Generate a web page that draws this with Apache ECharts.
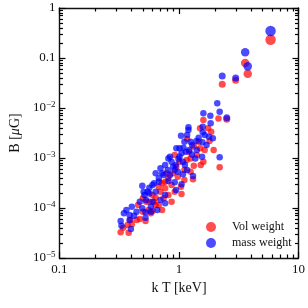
<!DOCTYPE html>
<html><head><meta charset="utf-8">
<script src="https://cdn.jsdelivr.net/npm/echarts@6/dist/echarts.min.js"></script>
<style>html,body{margin:0;padding:0;background:#fff}#c{width:308px;height:308px}</style>
</head><body><div id="c"></div>
<script>
// Data: [kT (keV), B (muG)]
const volWeight = [
 [5.84,0.232],[3.58,0.079],[3.76,0.0486],[2.98,0.036],[2.30,0.030],
 [2.14,0.0062],[2.51,0.00593],[1.60,0.00575],[1.86,0.00336],[1.80,0.00219],[1.95,0.00145],
 [1.17,0.0024],[1.33,0.00169],[1.50,0.00156],[1.25,0.00098],[1.16,0.000912],[1.60,0.000845],
 [1.52,0.000724],[1.33,0.000703],[2.19,0.00065],[1.01,0.000845],[0.887,0.000493],[0.815,0.000392],
 [0.977,0.000424],[0.766,0.000336],[0.722,0.000311],[0.867,0.000288],[1.04,0.000267],[0.678,0.000267],
 [0.600,0.000182],[0.815,0.000182],[1.05,0.000191],[0.531,0.000134],[0.638,0.000115],[0.557,0.0000912],
 [0.600,0.0000871],[0.722,0.0000912],[0.867,0.000134],[0.638,0.000161],[0.499,0.000156],[0.455,0.000115],
 [0.442,0.0000575],[0.391,0.0000575],[0.372,0.0000457],[0.341,0.0000405],[0.325,0.0000326],[0.379,0.0000321],
 [0.525,0.000055],[0.470,0.0000603],[0.403,0.0000471],[1.31,0.000374],
 [0.95,0.000671],[1.11,0.000575],[0.79,0.000493],[0.70,0.000212],[0.766,0.000247],[0.565,0.000134],
 [0.618,0.000134],[0.678,0.000115],[0.499,0.0000845],[0.582,0.0000782],[1.21,0.00134],[1.41,0.00115],
 [1.64,0.00145],[1.75,0.00392],[1.50,0.00392],[1.11,0.000363],[0.921,0.000212],[0.743,0.000156],
 [1.25,0.000533],[1.46,0.00212],[0.921,0.00115]
];
const massWeight = [
 [5.84,0.347],[3.58,0.130],[3.76,0.068],[2.98,0.040],[2.30,0.0437],
 [2.09,0.0124],[2.19,0.00845],[1.60,0.00782],[1.83,0.00703],[2.51,0.00641],[1.84,0.00493],
 [1.20,0.0041],[1.20,0.00363],[1.58,0.00424],[1.58,0.00326],[1.04,0.0028],[1.78,0.00267],
 [1.92,0.00247],[1.40,0.00219],[1.25,0.00212],[1.57,0.00206],[1.01,0.00156],[1.09,0.00161],
 [0.95,0.00156],[1.22,0.00145],[1.41,0.00145],[1.05,0.00124],[1.28,0.00118],[2.19,0.00103],
 [1.56,0.00106],[0.99,0.00095],[0.815,0.00098],[0.867,0.000845],[0.766,0.000724],[0.938,0.000724],
 [1.12,0.000724],[0.805,0.000575],[0.921,0.000575],[0.70,0.000621],[0.743,0.000457],[0.638,0.000493],
 [1.08,0.000471],[1.31,0.000437],[0.815,0.000347],[0.678,0.000336],[0.921,0.000326],[1.05,0.000297],
 [0.493,0.00028],[0.565,0.000255],[0.506,0.000212],[0.565,0.000196],[0.638,0.000212],[0.944,0.000229],
 [0.766,0.000182],[0.531,0.000145],[0.600,0.000134],[0.70,0.000145],[0.766,0.000124],[0.442,0.0000845],
 [0.493,0.0000985],[0.525,0.0000818],[0.363,0.0000912],[0.403,0.000106],[0.346,0.0000782],[0.386,0.0000724],
 [0.421,0.0000703],[0.325,0.000055],[0.330,0.0000443],[0.386,0.0000575],[0.396,0.000038],[0.525,0.0000641],
 [0.582,0.0000845],
 [0.84,0.00106],[0.893,0.000671],[1.01,0.00106],[1.14,0.00134],[1.29,0.00182],[1.46,0.00255],
 [1.64,0.00288],[1.17,0.00288],[1.11,0.00212],[0.722,0.000493],[0.678,0.000392],[0.618,0.000311],
 [0.547,0.000212],[0.600,0.000288],[0.514,0.000182],[0.470,0.000134],[0.582,0.000106],[0.658,0.0000912],
 [0.84,0.000457],[0.977,0.000533],[1.17,0.000575],[1.37,0.00098],[1.70,0.00182],[1.08,0.000845]
];
const seriesNames = ['Vol weight','mass weight'];
const xRange = [0.1, 10];
const yRange = [1e-5, 1];
const xTickLabels = {0.1:'0.1', 1:'1', 10:'10'};

// minor tick positions (2..9 x each decade)
function minorTicks(lo, hi){
  const out=[];
  for(let d=lo; d<hi*0.999; d*=10){ for(let k=2;k<=9;k++) out.push(+(d*k).toPrecision(3)); }
  return out;
}
const FONT = 'Liberation Serif';
const lineStyle = {color:'#111', width:1.4};
function tickStyle(){ return {color:'#000', width:1.2}; }
function sizeOf(v){ const t=v[0]; return t>5?10.5:(t>3.3?8.5:(t>2.2?7:6.5)); }

function xAxisDef(pos, minor, labels){
  return {type:'log', logBase:10, min:xRange[0], max:xRange[1], position:pos,
    axisLine:{show:!minor, onZero:false, lineStyle},
    axisTick:{show:true, inside:true, length:minor?3.5:6, lineStyle:tickStyle(),
      customValues: minor? minorTicks(xRange[0], xRange[1]) : undefined},
    axisLabel:{show:labels, margin:5, fontFamily:FONT, fontSize:13, color:'#111',
      formatter:v=>xTickLabels[v]!==undefined?xTickLabels[v]:String(v)},
    splitLine:{show:false},
    name: labels?'k T [keV]':'', nameLocation:'middle', nameGap:19,
    nameTextStyle:{fontFamily:FONT, fontSize:14, color:'#111'}
  };
}
function yLabel(v){
  if (Math.abs(v-1)<1e-9) return '{b|1}';
  if (Math.abs(v-0.1)<1e-9) return '{b|0.1}';
  const e = Math.round(Math.log10(v));
  return '{b|10}{s|\u2212' + Math.abs(e) + '}';
}
function yAxisDef(pos, minor, labels){
  return {type:'log', logBase:10, min:yRange[0], max:yRange[1], position:pos,
    axisLine:{show:!minor, onZero:false, lineStyle},
    axisTick:{show:true, inside:true, length:minor?3.5:6, lineStyle:tickStyle(),
      customValues: minor? minorTicks(yRange[0], yRange[1]) : undefined},
    axisLabel:{show:labels, margin:4, formatter:yLabel,
      rich:{b:{fontFamily:FONT, fontSize:13, color:'#111'},
            s:{fontFamily:FONT, fontSize:9, color:'#111', verticalAlign:'top', padding:[0,0,7,0]}}},
    splitLine:{show:false},
    name: labels?'{n|B [}{i|\u03bc}{n|G]}':'', nameLocation:'middle', nameGap:37, nameRotate:90,
    nameTextStyle:{rich:{n:{fontFamily:FONT, fontSize:14, color:'#111'},
                         i:{fontFamily:FONT, fontSize:14, color:'#111', fontStyle:'italic'}}}
  };
}

const chart = echarts.init(document.getElementById('c'), null, {renderer:'canvas'});
chart.setOption({
  animation:false,
  backgroundColor:'#fff',
  grid:{left:49, right:8, top:8, bottom:50},
  legend:{orient:'vertical', left:201, top:216, itemGap:4, itemWidth:32, itemHeight:10,
    icon:'circle', data:seriesNames,
    textStyle:{fontFamily:FONT, fontSize:12, color:'#111', lineHeight:12}},
  xAxis:[xAxisDef('bottom',false,true), xAxisDef('top',false,false),
         xAxisDef('bottom',true,false), xAxisDef('top',true,false)],
  yAxis:[yAxisDef('left',false,true), yAxisDef('right',false,false),
         yAxisDef('left',true,false), yAxisDef('right',true,false)],
  series:[
    {name:seriesNames[0], type:'scatter', xAxisIndex:0, yAxisIndex:0, data:volWeight,
     symbolSize:sizeOf, itemStyle:{color:'#ff0000', opacity:0.7}},
    {name:seriesNames[1], type:'scatter', xAxisIndex:0, yAxisIndex:0, data:massWeight,
     symbolSize:sizeOf, itemStyle:{color:'#0000ff', opacity:0.7}}
  ]
});
</script></body></html>
